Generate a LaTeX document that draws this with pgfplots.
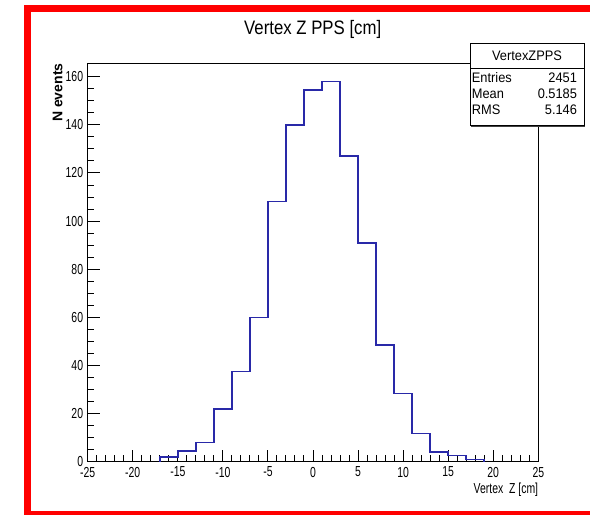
\documentclass[border=0pt]{standalone}
\usepackage{pgfplots}
\pgfplotsset{compat=1.18}
\usepackage{fontspec}
\setmainfont{Liberation Sans}
\newfontfamily\tickf{Liberation Sans}[FakeStretch=0.72]
\newfontfamily\titlef{Liberation Sans}[FakeStretch=0.86]
\newfontfamily\statf{Liberation Sans}[FakeStretch=0.93]
\definecolor{histblue}{rgb}{0.16,0.16,0.66}
\begin{document}
\begin{tikzpicture}
\begin{axis}[
  scale only axis, width=450.6bp, height=398.4bp,
  at={(0,0)}, anchor=south west,
  xmin=-25, xmax=25, ymin=0, ymax=165.6,
  xtick={-25,-20,...,25}, ytick={0,20,...,160},
  minor x tick num=4, minor y tick num=3,
  tick align=inside, tick pos=left,
  major tick length=12bp, minor tick length=6.5bp,
  axis line style={line width=1bp},
  every tick/.style={black, line width=1bp},
  ticklabel style={font=\tickf\fontsize{14.5bp}{16bp}\selectfont, inner sep=0pt},
  xticklabel style={anchor=north, yshift=-5bp},
  yticklabel style={anchor=east, xshift=-4.4bp},
  /pgf/number format/assume math mode=true,
  clip=false,
]
\addplot[const plot mark left, histblue, line width=1.5bp] coordinates {
  (-17,0) (-17,2) (-15,4.5) (-13,8) (-11,22) (-9,37.5) (-7,60) (-5,108.2)
  (-3,140) (-1,154.4) (1,158.1) (3,127) (5,90.8) (7,48.5) (9,28.4)
  (11,11.8) (13,4) (15,2.5) (17,1) (19,1) (19,0)
};
\end{axis}
\begin{scope}[x=1bp,y=1bp]
  % red frame
  \draw[red, line width=7bp, line join=miter] (540,-53.3) -- (-59.7,-53.3) -- (-59.7,453.2) -- (540,453.2);
  % title
  \node[font=\titlef\fontsize{19.5bp}{22bp}\selectfont, anchor=base, inner sep=0pt] at (225,426.7) {Vertex Z PPS [cm]};
  % axis labels
  \node[font=\tickf\fontsize{14.5bp}{16bp}\selectfont, anchor=base east, inner sep=0pt] at (450.6,-32.3) {Vertex\ \ Z [cm]};
  \node[font=\bfseries\fontsize{14bp}{16bp}\selectfont, rotate=90, anchor=east, inner sep=0pt] at (-30,398.4) {N events};
  % stats box
  \draw[black!75, line width=1.2bp] (383.3,335.2) -- (497.1,335.2) -- (497.1,417.4);
  \filldraw[fill=white, draw=black, line width=1bp] (382.3,336) rectangle (496.3,418.4);
  \draw[line width=1bp] (382.3,393.4) -- (496.3,393.4);
  \begin{scope}[font=\statf\fontsize{13.8bp}{15bp}\selectfont, inner sep=0pt]
    \node[anchor=center] at (439.3,405.9) {VertexZPPS};
    \node[anchor=west] at (384,383.7) {Entries};
    \node[anchor=east] at (489.5,383.7) {2451};
    \node[anchor=west] at (384,368.2) {Mean};
    \node[anchor=east] at (489.5,368.2) {0.5185};
    \node[anchor=west] at (384,352.2) {RMS};
    \node[anchor=east] at (489.5,352.2) {5.146};
  \end{scope}
  \pgfresetboundingbox
  \useasboundingbox (-87.7,-53.3) rectangle (502.3,461.7);
\end{scope}
\end{tikzpicture}
\end{document}
